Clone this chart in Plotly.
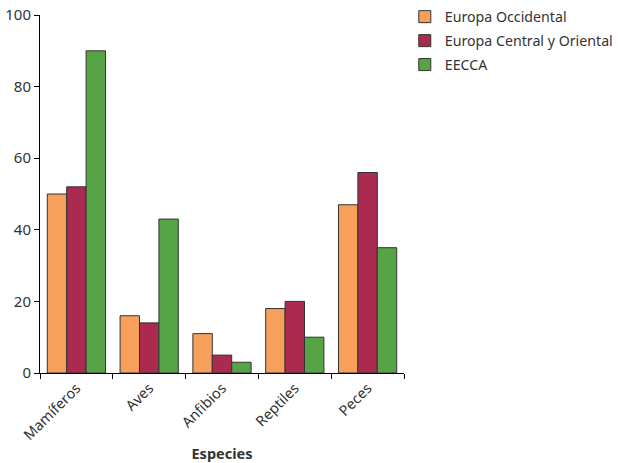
import plotly.graph_objects as go

categories = ["Mamíferos", "Aves", "Anfibios", "Reptiles", "Peces"]
europa_occidental = [50, 16, 11, 18, 47]
europa_central_oriental = [52, 14, 5, 20, 56]
eecca = [90, 43, 3, 10, 35]
series_names = ["Europa Occidental", "Europa Central y Oriental", "EECCA"]
colors = ["#F7A05B", "#AA2A50", "#57A446"]
y_ticks = [0, 20, 40, 60, 80, 100]

FONT = "'Noto Sans', 'Open Sans', sans-serif"

fig = go.Figure()
for i, (name, vals) in enumerate(zip(series_names, [europa_occidental, europa_central_oriental, eecca])):
    fig.add_trace(go.Bar(
        x=categories, y=vals, name=name,
        marker=dict(color=colors[i], line=dict(color="#333333", width=1)),
        legendgroup=name,
    ))

fig.update_layout(
    width=618, height=463,
    margin=dict(l=40, r=214, t=15, b=90, autoexpand=False),
    plot_bgcolor="white", paper_bgcolor="white",
    barmode="group", bargap=0.2, bargroupgap=0,
    font=dict(family=FONT, size=14, color="#333333"),
    showlegend=True,
    legend=dict(x=0.655, y=0.998, xref="container", yref="container",
                xanchor="left", yanchor="top",
                font=dict(size=14.2, color="#333333"),
                traceorder="grouped", tracegroupgap=2.5,
                bgcolor="rgba(0,0,0,0)"),
    xaxis=dict(
        automargin=False,
        showline=True, linecolor="black", linewidth=1,
        ticks="outside", tickson="boundaries", ticklen=5, tickcolor="black",
        tickangle=-45, showgrid=False,
        title=dict(text="<b>Especies</b>", font=dict(size=14.5, color="#333333"), standoff=14),
        tickfont=dict(size=14.5, color="#333333"),
    ),
    yaxis=dict(
        automargin=False,
        range=[0, 100], tickvals=y_ticks,
        showline=True, linecolor="black", linewidth=1,
        ticks="outside", ticklen=5, tickcolor="black",
        showgrid=False, zeroline=False,
        tickfont=dict(size=15, color="#333333"),
    ),
)

fig.write_html("out.html", config={"displayModeBar": False},
               post_script="document.body.style.margin='0';")
